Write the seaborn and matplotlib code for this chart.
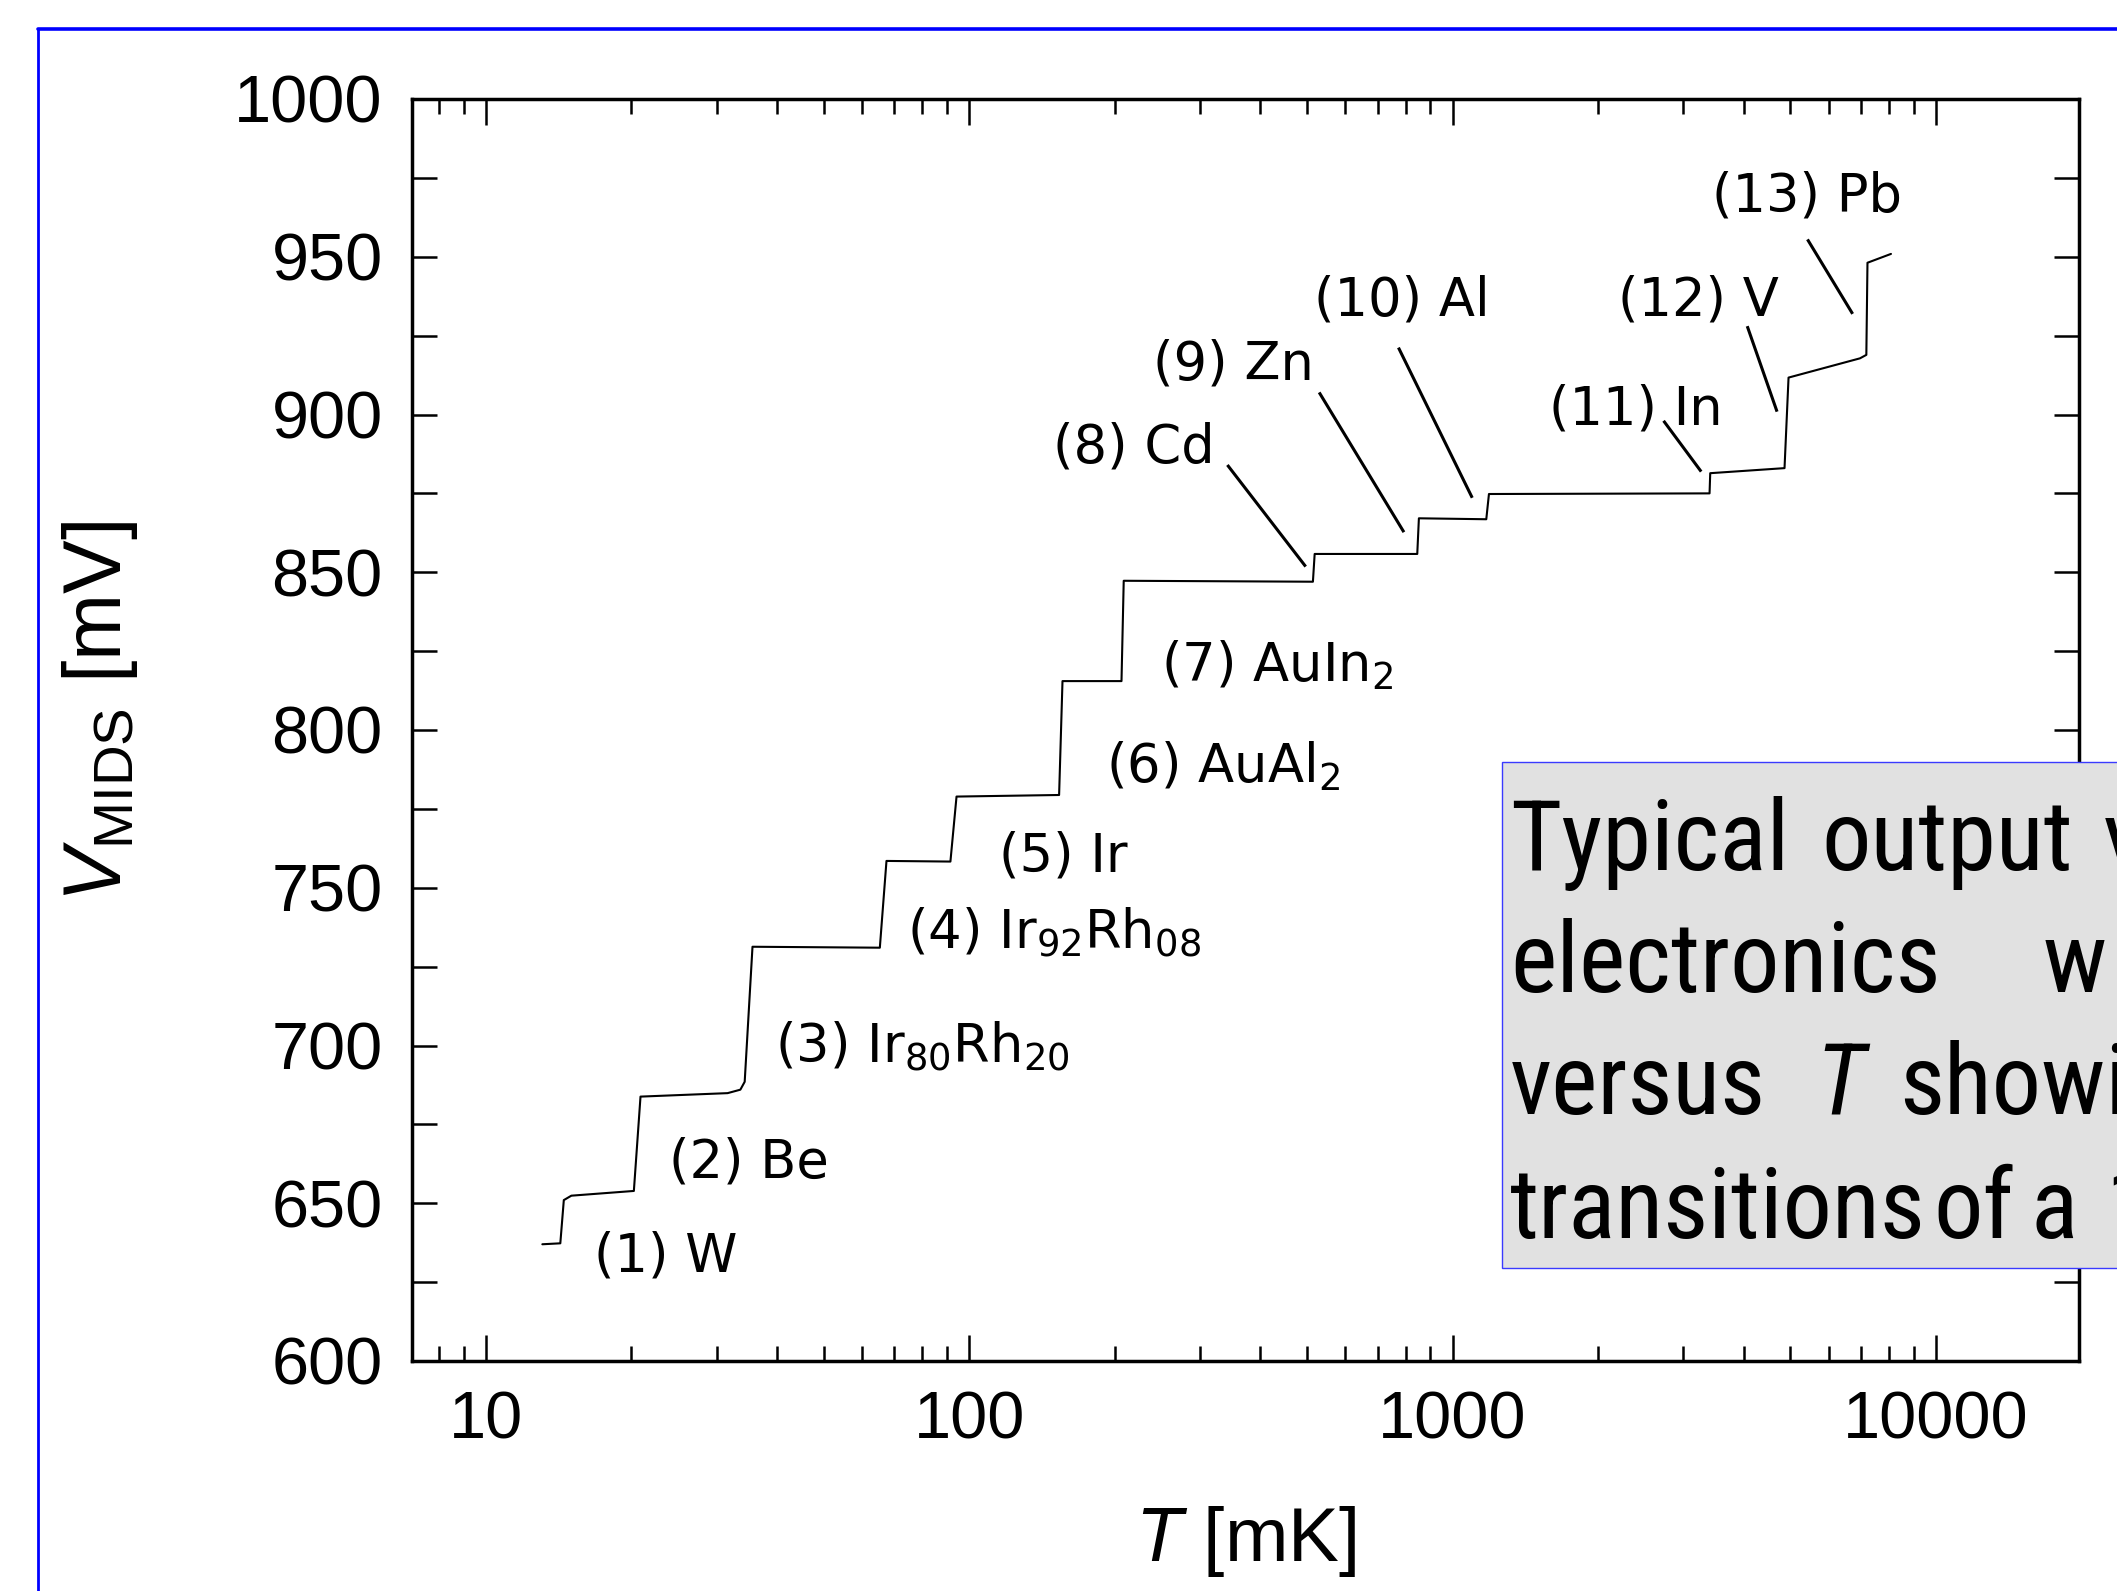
import matplotlib
matplotlib.use("Agg")
import matplotlib.pyplot as plt
import matplotlib.ticker as mticker
from matplotlib import font_manager
from matplotlib.font_manager import FontProperties
from matplotlib.lines import Line2D
from matplotlib.patches import Rectangle
import pandas as pd
import seaborn as sns

# MIDS output voltage versus temperature
temp_mK = [13.08, 14.25, 14.49, 15.02, 20.23, 20.88, 31.62, 33.6, 34.3, 35.6,
           65.3, 67.4, 91.4, 94.1, 153.4, 155.9, 206.5, 208.7, 514.0, 518.3,
           845.0, 851.6, 1174.0, 1189.0, 3401.0, 3412.0, 4861.0, 4955.0,
           6963.0, 7178.0, 7217.0, 8072.0]
v_mids = [637.0, 637.3, 651.0, 652.4, 653.9, 683.8, 684.9, 686.0, 688.5, 731.3,
          731.0, 758.5, 758.3, 778.9, 779.4, 815.5, 815.5, 847.3, 847.0, 855.8,
          855.8, 867.1, 866.8, 874.8, 875.0, 881.4, 883.0, 911.7,
          917.8, 918.9, 948.1, 950.9]

# fixed-point labels (text anchor in data coords: left / baseline)
label_text = ['(1) W', '(2) Be', r'(3) Ir$_{80}$Rh$_{20}$', r'(4) Ir$_{92}$Rh$_{08}$',
              '(5) Ir', r'(6) AuAl$_{2}$', r'(7) AuIn$_{2}$', '(8) Cd', '(9) Zn',
              '(10) Al', '(11) In', '(12) V', '(13) Pb']
label_T = [16.71, 23.97, 39.6, 74.4, 115.1, 192.2, 248.9, 149.3, 240.4, 517.4, 1580, 2194, 3440]
label_V = [628.3, 658.1, 694.4, 730.5, 755.1, 783.4, 815.3, 884.8, 911.2, 931.3, 896.7, 931.3, 964.5]

# leader lines for labels (8)..(13)
leader_T0 = [342, 529.6, 772.6, 2732, 4070, 5423]
leader_V0 = [884.0, 907.0, 921.2, 898.0, 928.0, 955.5]
leader_T1 = [496.6, 793, 1098, 3268, 4691, 6724]
leader_V1 = [851.8, 862.7, 873.6, 881.9, 900.9, 931.9]

x_ticks = [10, 100, 1000, 10000]
x_ticklabels = ['10', '100', '1000', '10000']
y_ticks = [600, 650, 700, 750, 800, 850, 900, 950, 1000]

# caption box (cropped at the right edge of the slide)
box_words = [['Typical', 'output', 'v'], ['electronics', 'w'],
             ['versus', 'T', 'showi'], ['transitions', 'of', 'a', '1']]
box_word_x = [[1510, 1821, 2103], [1510, 2043], [1510, 1815, 1899], [1510, 1933, 2031, 2105]]
box_baseline = [870, 992, 1114, 1238]

sns.set_style("ticks")
available = {f.name for f in font_manager.fontManager.ttflist}
narrow = None
for cand in ['Liberation Sans Narrow', 'Arial Narrow', 'Roboto Condensed', 'Open Sans Condensed']:
    if cand in available:
        narrow = cand
        break
box_family = narrow if narrow else 'Liberation Sans'
box_size = 71 if narrow else 64

plt.rcParams['font.family'] = ['Liberation Sans', 'DejaVu Sans']
plt.rcParams['mathtext.fontset'] = 'custom'
plt.rcParams['mathtext.rm'] = 'Liberation Sans'
plt.rcParams['mathtext.it'] = 'Liberation Sans:italic'
for key in ['text.color', 'axes.labelcolor', 'xtick.color', 'ytick.color', 'axes.edgecolor']:
    plt.rcParams[key] = 'black'

W, H = 2117, 1591
fig = plt.figure(figsize=(W / 100, H / 100), dpi=100)
ax = fig.add_axes([412 / W, 1 - 1361 / H, (2079 - 412) / W, (1361 - 99) / H])

df = pd.DataFrame({'T': temp_mK, 'V': v_mids})
sns.lineplot(data=df, x='T', y='V', sort=False, estimator=None, color='black', lw=1.5, ax=ax)

ax.set_xscale('log')
ax.set_xlim(7.03, 19770)
ax.set_ylim(600, 1000)
ax.set_xticks(x_ticks, x_ticklabels)
ax.xaxis.set_minor_locator(mticker.LogLocator(base=10, subs=range(2, 10), numticks=20))
ax.xaxis.set_minor_formatter(mticker.NullFormatter())
ax.set_yticks(y_ticks)
ax.yaxis.set_minor_locator(mticker.MultipleLocator(25))

for s in ax.spines.values():
    s.set_linewidth(2.5)
ax.tick_params(which='both', direction='in', top=True, right=True, width=1.8, labelsize=48)
ax.tick_params(axis='x', which='major', length=19, pad=21)
ax.tick_params(axis='x', which='minor', length=11)
ax.tick_params(axis='y', which='major', length=18, pad=21)
ax.tick_params(axis='y', which='minor', length=18)

ax.set_xlabel(r'$T$ [mK]', fontsize=55)
ax.xaxis.set_label_coords(0.5, -0.113)
ax.set_ylabel(r'$V_{\mathrm{MIDS}}$ [mV]', fontsize=58)
ax.yaxis.set_label_coords(-0.163, 0.515)

for txt, t, v in zip(label_text, label_T, label_V):
    ax.text(t, v, txt, ha='left', va='baseline',
            fontproperties=FontProperties(family='DejaVu Sans', size=38, math_fontfamily='dejavusans'))
for t0, v0, t1, v1 in zip(leader_T0, leader_V0, leader_T1, leader_V1):
    ax.plot([t0, t1], [v0, v1], color='black', lw=2.2, solid_capstyle='butt')

# blue slide frame (top and left edges visible)
fig.add_artist(Line2D([38 / W, 38 / W], [-0.01, 1 - 29 / H], transform=fig.transFigure,
                      color='#0000ff', lw=2.0))
fig.add_artist(Line2D([38 / W, 1.01], [1 - 29 / H, 1 - 29 / H], transform=fig.transFigure,
                      color='#0000ff', lw=2.6))

# grey caption box over the right spine
fig.add_artist(Rectangle((1502 / W, 1 - 1268 / H), 0.5, (1268 - 762) / H, transform=fig.transFigure,
                         facecolor='#e1e1e1', edgecolor='#3a3aff', lw=1.0, zorder=5))
for words, xs, base in zip(box_words, box_word_x, box_baseline):
    for w, x in zip(words, xs):
        fig.text(x / W, 1 - base / H, w, ha='left', va='baseline', fontsize=box_size,
                 family=box_family, style='italic' if w == 'T' else 'normal', zorder=6)

fig.savefig('out.png', dpi=100)
